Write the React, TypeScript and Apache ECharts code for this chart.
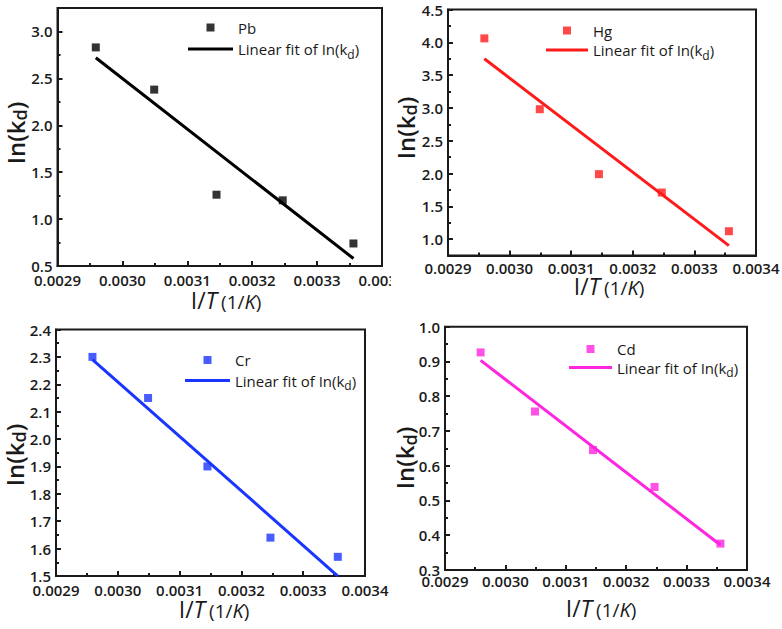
import React, { useEffect, useRef } from "react";
import * as echarts from "echarts";

// ---- data ----
const invT = [0.002959, 0.003049, 0.003145, 0.003247, 0.003356];
const pbLnKd = [2.83, 2.38, 1.26, 1.2, 0.74];
const hgLnKd = [4.06, 2.98, 1.99, 1.71, 1.12];
const crLnKd = [2.3, 2.15, 1.9, 1.64, 1.57];
const cdLnKd = [0.926, 0.756, 0.645, 0.539, 0.376];

const fitX = [0.002959, 0.003356];
const pbFit = [2.72, 0.58];
const hgFit = [3.75, 0.9];
const crFit = [2.29, 1.5];
const cdFit = [0.903, 0.372];

const xTicks = [0.0029, 0.003, 0.0031, 0.0032, 0.0033, 0.0034];
const pbYTicks = [0.5, 1.0, 1.5, 2.0, 2.5, 3.0];
const hgYTicks = [1.0, 1.5, 2.0, 2.5, 3.0, 3.5, 4.0, 4.5];
const crYTicks = [1.5, 1.6, 1.7, 1.8, 1.9, 2.0, 2.1, 2.2, 2.3, 2.4];
const cdYTicks = [0.3, 0.4, 0.5, 0.6, 0.7, 0.8, 0.9, 1.0];

const FIT_NAME = "Linear fit of In(kd)";
const X_NAME = "{b|I/}{i|T}{p|(1/}{si|K}{s|)}";
const Y_NAME = "{a|In(k}{s|d}{a|)}";
const FONT = "'Open Sans', 'Noto Sans', 'DejaVu Sans', sans-serif";
const INK = "#1a1a1a";
const SQUARE_ICON = "path://M0,0H1V1H0Z";
const LINE_ICON = "path://M0,0H15V1H0Z";

type Panel = {
  metal: string;
  values: number[];
  fit: number[];
  yTicks: number[];
  yMin: number;
  yMax: number;
  yHalf: number;
  color: string;
  box: { left: number; top: number; width: number; height: number };
  grid: { left: number; top: number; width: number; height: number };
  legend: { left: number; top: number; itemWidth: number; itemGap: number };
  xName: [number, number];
  yName: [number, number];
  xLabelMargin: number;
};

const panels: Panel[] = [
  {
    metal: "Pb", values: pbLnKd, fit: pbFit, yTicks: pbYTicks,
    yMin: 0.5, yMax: 3.25, yHalf: 0.25, color: "#000000",
    box: { left: 0, top: 0, width: 391, height: 315 },
    grid: { left: 57.5, top: 8, width: 324.5, height: 258 },
    legend: { left: 188, top: 15, itemWidth: 45, itemGap: 3 },
    xName: [226, 300], yName: [15, 133], xLabelMargin: 6,
  },
  {
    metal: "Hg", values: hgLnKd, fit: hgFit, yTicks: hgYTicks,
    yMin: 0.75, yMax: 4.5, yHalf: 0.25, color: "#ff1a1a",
    box: { left: 391, top: 0, width: 391, height: 315 },
    grid: { left: 57, top: 9.5, width: 308, height: 246 },
    legend: { left: 155, top: 18, itemWidth: 42, itemGap: 1 },
    xName: [218, 286], yName: [14, 128], xLabelMargin: 5,
  },
  {
    metal: "Cr", values: crLnKd, fit: crFit, yTicks: crYTicks,
    yMin: 1.5, yMax: 2.4, yHalf: 0.05, color: "#1a35ff",
    box: { left: 0, top: 315, width: 391, height: 314 },
    grid: { left: 56, top: 14.5, width: 309, height: 246.5 },
    legend: { left: 185, top: 32.5, itemWidth: 45, itemGap: 2 },
    xName: [214, 294], yName: [14, 140], xLabelMargin: 6,
  },
  {
    metal: "Cd", values: cdLnKd, fit: cdFit, yTicks: cdYTicks,
    yMin: 0.3, yMax: 1.0, yHalf: 0.05, color: "#ff26e0",
    box: { left: 391, top: 315, width: 391, height: 314 },
    grid: { left: 54, top: 11.7, width: 302, height: 243.3 },
    legend: { left: 178, top: 21.5, itemWidth: 43, itemGap: 0 },
    xName: [210, 292.5], yName: [13.5, 143], xLabelMargin: 3,
  },
];

const xNameRich = {
  b: { fontFamily: FONT, fontSize: 23, fill: INK, color: INK, lineHeight: 23, verticalAlign: "bottom" },
  i: { fontFamily: FONT, fontSize: 23, fontStyle: "italic", fill: INK, color: INK, lineHeight: 23, verticalAlign: "bottom" },
  p: { fontFamily: FONT, fontSize: 19, fill: INK, color: INK, lineHeight: 20, verticalAlign: "bottom", padding: [0, 0, 0, 4] },
  s: { fontFamily: FONT, fontSize: 19, fill: INK, color: INK, lineHeight: 20, verticalAlign: "bottom" },
  si: { fontFamily: FONT, fontSize: 20, fontStyle: "italic", fill: INK, color: INK, lineHeight: 20, verticalAlign: "bottom" },
};

const yNameRich = {
  a: { fontFamily: FONT, fontSize: 24, fontWeight: 600, fill: INK, color: INK, lineHeight: 26 },
  s: { fontFamily: FONT, fontSize: 18, fontWeight: 600, fill: INK, color: INK, lineHeight: 16, padding: [10, 0, 0, 0] },
};

function buildOption(p: Panel) {
  const scatterData = invT.map((x, i) => [x, p.values[i]]);
  const fitData = fitX.map((x, i) => [x, p.fit[i]]);
  const lineStyle = { color: INK, width: 2 };
  return {
    animation: false,
    backgroundColor: "#ffffff",
    grid: {
      ...p.grid,
      show: true,
      borderColor: INK,
      borderWidth: 2,
      backgroundColor: "transparent",
      containLabel: false,
      outerBoundsMode: "none",
    },
    graphic: [
      {
        type: "text",
        x: p.xName[0],
        y: p.xName[1],
        silent: true,
        style: { text: X_NAME, rich: xNameRich, align: "center", verticalAlign: "middle", fill: INK },
      },
      {
        type: "text",
        x: p.yName[0],
        y: p.yName[1],
        rotation: Math.PI / 2,
        silent: true,
        style: { text: Y_NAME, rich: yNameRich, align: "center", verticalAlign: "middle", fill: INK },
      },
    ],
    legend: {
      orient: "vertical",
      left: p.legend.left,
      top: p.legend.top,
      padding: [5, 5, 5, 0],
      itemWidth: p.legend.itemWidth,
      itemHeight: 8,
      itemGap: p.legend.itemGap,
      selectedMode: false,
      data: [
        { name: p.metal, icon: SQUARE_ICON },
        { name: FIT_NAME, icon: LINE_ICON },
      ],
      formatter: (name: string) =>
        name === FIT_NAME ? "{a|Linear fit of In(k}{s|d}{a|)}" : "{a|" + name + "}",
      textStyle: {
        color: INK,
        fontFamily: FONT,
        fontSize: 15,
        rich: {
          a: { fontFamily: FONT, fontSize: 15, color: INK, lineHeight: 20 },
          s: { fontFamily: FONT, fontSize: 12, color: INK, lineHeight: 12, padding: [10, 0, 0, 0] },
        },
      },
    },
    xAxis: [
      {
        type: "value",
        min: xTicks[0],
        max: xTicks[xTicks.length - 1],
        interval: 0.0001,
        axisLine: { show: true, onZero: false, lineStyle },
        axisTick: { show: true, inside: true, length: 5, lineStyle },
        minorTick: { show: true, splitNumber: 2, length: 3, lineStyle },
        splitLine: { show: false },
        axisLabel: {
          color: INK,
          fontFamily: FONT,
          fontSize: 15,
          fontWeight: 600,
          margin: p.xLabelMargin,
          formatter: (v: number) => v.toFixed(4),
        },
      },
    ],
    yAxis: [
      {
        type: "value",
        min: p.yMin,
        max: p.yMax,
        interval: p.yHalf,
        axisLine: { show: true, onZero: false, lineStyle },
        axisTick: { show: true, inside: true, length: 5, lineStyle, customValues: p.yTicks },
        splitLine: { show: false },
        axisLabel: {
          color: INK,
          fontFamily: FONT,
          fontSize: 15,
          fontWeight: 600,
          margin: 5,
          customValues: p.yTicks,
          formatter: (v: number) => v.toFixed(1),
        },
      },
      {
        type: "value",
        position: "left",
        offset: 0,
        min: p.yMin,
        max: p.yMax,
        interval: p.yHalf,
        axisLine: { show: false },
        axisTick: { show: true, inside: true, length: 3, lineStyle },
        axisLabel: { show: false },
        splitLine: { show: false },
      },
    ],
    series: [
      {
        type: "scatter",
        name: p.metal,
        data: scatterData,
        symbol: "rect",
        symbolSize: 8,
        itemStyle: { color: p.color },
        xAxisIndex: 0,
        yAxisIndex: 0,
        z: 3,
      },
      {
        type: "line",
        name: FIT_NAME,
        data: fitData,
        symbol: "none",
        lineStyle: { color: p.color, width: 3 },
        itemStyle: { color: p.color },
        xAxisIndex: 0,
        yAxisIndex: 0,
        z: 2,
      },
    ],
  };
}

function ChartPanel({ panel }: { panel: Panel }) {
  const ref = useRef<HTMLDivElement>(null);
  useEffect(() => {
    if (!ref.current) return;
    const chart = echarts.init(ref.current, undefined, { renderer: "svg" });
    chart.setOption(buildOption(panel) as any);
    return () => chart.dispose();
  }, [panel]);
  return (
    <div
      ref={ref}
      style={{
        position: "absolute",
        left: panel.box.left,
        top: panel.box.top,
        width: panel.box.width,
        height: panel.box.height,
        overflow: "hidden",
      }}
    />
  );
}

export default function App() {
  return (
    <div
      style={{
        position: "fixed",
        left: 0,
        top: 0,
        width: 782,
        height: 629,
        background: "#ffffff",
        overflow: "hidden",
      }}
    >
      {panels.map((p) => (
        <ChartPanel key={p.metal} panel={p} />
      ))}
    </div>
  );
}
